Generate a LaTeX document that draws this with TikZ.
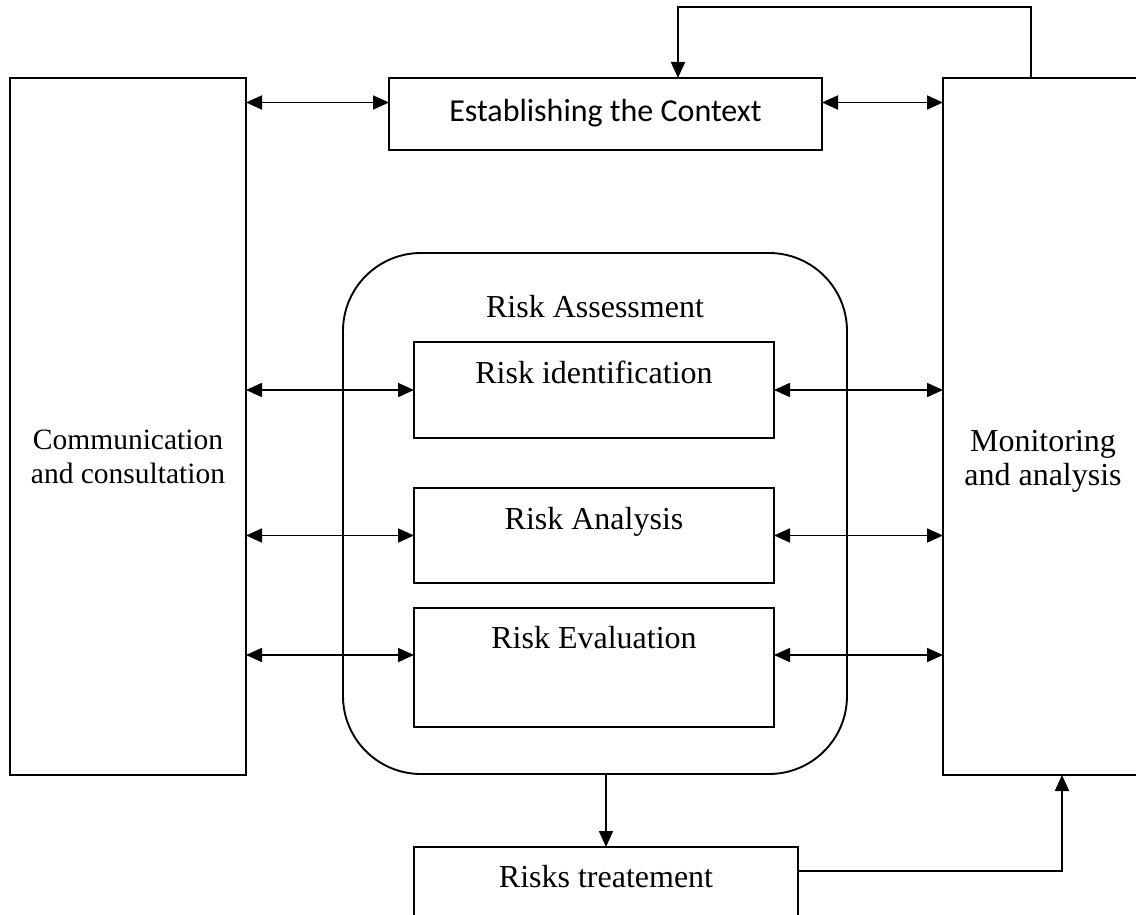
\documentclass[tikz,border=0pt]{standalone}
\usepackage{fontspec}
\setmainfont{Liberation Serif}
\newfontfamily\ctxfont{Carlito}
\usetikzlibrary{arrows.meta}
\begin{document}
\begin{tikzpicture}[x=1pt,y=-1pt,
  box/.style={draw, line width=1.9pt, inner sep=0pt, outer sep=0pt, anchor=north west},
  lbl/.style={inner sep=0pt, align=center, font=\fontsize{32}{34}\selectfont},
  link/.style={line width=1.8pt, -{Triangle[length=16pt,width=14pt]}},
  both/.style={line width=1.8pt, {Triangle[length=16pt,width=14pt]}-{Triangle[length=16pt,width=14pt]}}]
\useasboundingbox (0,0) rectangle (1136,915);
\begin{scope}
  \clip (0,0) rectangle (1136,915);
  % side columns
  \node[box, minimum width=236pt, minimum height=697pt] (comm) at (10,78) {};
  \node[box, minimum width=200pt, minimum height=697pt] (mon) at (943,78) {};
  % context box
  \node[box, minimum width=433pt, minimum height=72pt] (ctx) at (389,78) {};
  % risk assessment group
  \node[box, rounded corners=78pt, minimum width=504pt, minimum height=521pt] (ra) at (343,253) {};
  \node[box, minimum width=360pt, minimum height=96pt] (id) at (414,342) {};
  \node[box, minimum width=360pt, minimum height=95pt] (an) at (414,488) {};
  \node[box, minimum width=360pt, minimum height=119pt] (ev) at (414,608) {};
  % treatment
  \node[box, minimum width=384pt, minimum height=120pt] (tr) at (414,847) {};
\end{scope}

% texts
\node[lbl, font=\fontsize{29.5}{34}\selectfont] (commtxt) at ([yshift=-30pt]comm.center) {Communication\\and consultation};
\node[lbl] (montxt) at ([yshift=-35pt]mon.center) {Monitoring\\and analysis};
\node[lbl, font=\ctxfont\fontsize{32}{34}\selectfont] (ctxtxt) at ([yshift=1pt]ctx.center) {Establishing the Context};
\node[lbl] (ratxt) at ([yshift=-54pt]ra.north) {Risk Assessment};
\node[lbl] (idtxt) at ([yshift=-30.5pt]id.north) {Risk identification};
\node[lbl] (antxt) at ([yshift=-33.5pt]an.north) {Risk Analysis};
\node[lbl] (evtxt) at ([yshift=-30pt]ev.north) {Risk Evaluation};
\node[lbl] (trtxt) at ([yshift=-30pt]tr.north) {Risks treatement};

% connection points
\coordinate (ctxin) at ([yshift=11.5pt]ctx.west);
\coordinate (ctxout) at ([yshift=11.5pt]ctx.east);
\coordinate (evin) at ([yshift=12.5pt]ev.west);
\coordinate (evout) at ([yshift=12.5pt]ev.east);
\coordinate (fb) at ([xshift=-12pt]mon.north);
\coordinate (ctxtop) at ([xshift=72.5pt]ctx.north);
\coordinate (trout) at ([yshift=-24pt]tr.north east);
\coordinate (monin) at ([xshift=19pt]mon.south);

% two-way links
\draw[both] (comm.east |- ctxin) -- (ctxin);
\draw[both] (ctxout) -- (mon.west |- ctxout);
\draw[both] (comm.east |- id.west) -- (id.west);
\draw[both] (id.east) -- (mon.west |- id.east);
\draw[both] (comm.east |- an.west) -- (an.west);
\draw[both] (an.east) -- (mon.west |- an.east);
\draw[both] (comm.east |- evin) -- (evin);
\draw[both] (evout) -- (mon.west |- evout);

% feedback and flow
\draw[link] (fb) -- (fb |- 0,7) -| (ctxtop);
\draw[link] (tr.north |- ra.south) -- (tr.north);
\draw[link] (trout) -| (monin);
\end{tikzpicture}
\end{document}
